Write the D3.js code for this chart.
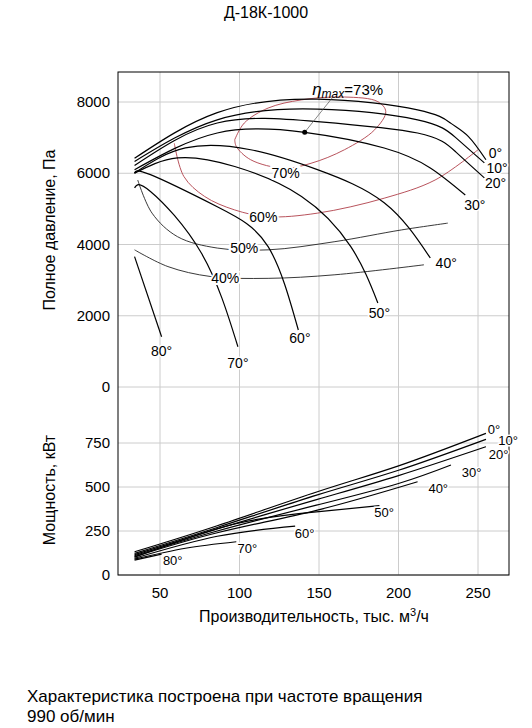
<!DOCTYPE html>
<html><head><meta charset="utf-8">
<script src="https://cdn.jsdelivr.net/npm/d3@7"></script>
<style>body{margin:0;background:#fff}svg{font-family:"Liberation Sans",Arial,sans-serif}</style>
</head><body><svg id="c" width="532" height="728"></svg>
<script>
const xTicks=[50,100,150,200,250];
const pTicks=[0,2000,4000,6000,8000];
const nTicks=[0,250,500,750];
const pressure={
 "0°":[[34,6420],[86,7700],[149,8080],[212,7780],[233,7400],[244,7030],[255,6380]],
 "10°":[[34,6330],[86,7500],[149,7800],[212,7500],[236,7000],[254,6290]],
 "20°":[[34,6220],[86,7410],[149,7450],[212,7130],[236,6600],[254,5870]],
 "30°":[[34,6100],[86,7130],[141,7150],[191,6710],[220,6150],[242,5390]],
 "40°":[[34,6010],[66,6710],[107,6660],[149,6100],[191,5170],[220,3620]],
 "50°":[[34,6000],[61,6430],[97,6190],[139,5350],[170,3940],[187,2360]],
 "60°":[[34,6000],[44,5960],[86,5060],[118,3940],[137,1600]],
 "70°":[[34,5590],[44,5490],[76,3760],[99,1130]],
 "80°":[[34,3660],[51,1410]]
};
const pressureLabels=[["0°",261,6560],["10°",262,6140],["20°",261,5720],["30°",248,5110],["40°",230,3470],["50°",188,2070],["60°",138,1370],["70°",99,670],["80°",51,1000]];
const eff70=[[97,6940],[103,7410],[118,7830],[139,8060],[166,8140],[187,8010],[192,7730],[185,7220],[166,6660],[145,6280],[128,6140],[107,6380],[98,6750],[97,6940]];
const eff60=[[59,6840],[65,5910],[78,5350],[97,4970],[118,4780],[149,4880],[191,5300],[223,5810],[250,6660]];
const eff50=[[36,5810],[45,4880],[61,4220],[86,3900],[118,3850],[160,4080],[202,4410],[231,4600]];
const eff40=[[34,3850],[55,3380],[82,3100],[118,3050],[160,3150],[216,3430]];
const effLabels=[["70%",129,6000],["60%",115,4780],["50%",103,3900],["40%",91,3050]];
const bestPoint=[141,7150];
const power={
 "0°":[[34,132],[86,280],[149,473],[200,620],[255,805]],
 "10°":[[34,123],[86,270],[149,455],[200,595],[255,771]],
 "20°":[[34,116],[86,262],[149,430],[200,565],[255,729]],
 "30°":[[34,110],[86,250],[149,398],[200,520],[233,625]],
 "40°":[[34,104],[86,240],[149,369],[212,530]],
 "50°":[[34,101],[97,290],[150,360],[188,394]],
 "60°":[[34,95],[86,220],[135,278]],
 "70°":[[34,90],[66,152],[98,189]],
 "80°":[[34,85],[51,119]]
};
const powerLabels=[["0°",260,830],["10°",269,765],["20°",263,690],["30°",246,587],["40°",225,494],["50°",191,360],["60°",141,237],["70°",105,152],["80°",58,85]];

const svg=d3.select("#c");
const x=d3.scaleLinear().domain([0,250]).range([80.5,478]);
const yP=d3.scaleLinear().domain([0,8000]).range([387,102]);
const yN=d3.scaleLinear().domain([0,750]).range([575,443]);
const L=118,R=509,T=72,B=575;
const g=svg.append("g");
xTicks.forEach(v=>g.append("line").attr("x1",x(v)).attr("x2",x(v)).attr("y1",T).attr("y2",B).attr("stroke","#ccc"));
pTicks.forEach(v=>g.append("line").attr("x1",L).attr("x2",R).attr("y1",yP(v)).attr("y2",yP(v)).attr("stroke","#ccc"));
nTicks.forEach(v=>g.append("line").attr("x1",L).attr("x2",R).attr("y1",yN(v)).attr("y2",yN(v)).attr("stroke","#ccc"));
g.append("rect").attr("x",L).attr("y",T).attr("width",R-L).attr("height",B-T).attr("fill","none").attr("stroke","#000");
const fs=15;
xTicks.forEach(v=>g.append("text").attr("x",x(v)).attr("y",598).attr("text-anchor","middle").attr("font-size",fs).text(v));
pTicks.forEach(v=>g.append("text").attr("x",110).attr("y",yP(v)+5).attr("text-anchor","end").attr("font-size",fs).text(v));
nTicks.forEach(v=>g.append("text").attr("x",110).attr("y",yN(v)+5).attr("text-anchor","end").attr("font-size",fs).text(v));
const lineP=d3.line().x(d=>x(d[0])).y(d=>yP(d[1])).curve(d3.curveNatural);
const lineE=d3.line().x(d=>x(d[0])).y(d=>yP(d[1])).curve(d3.curveCatmullRom);
const lineN=d3.line().x(d=>x(d[0])).y(d=>yN(d[1])).curve(d3.curveNatural);
[eff70,eff60,eff50,eff40].forEach((d,i)=>g.append("path").attr("d",lineE(d)).attr("fill","none").attr("stroke",i<2?"#b0404a":"#222").attr("stroke-width",0.9));
Object.values(pressure).forEach(d=>g.append("path").attr("d",lineP(d)).attr("fill","none").attr("stroke","#000").attr("stroke-width",1.2));
Object.values(power).forEach(d=>g.append("path").attr("d",lineN(d)).attr("fill","none").attr("stroke","#000").attr("stroke-width",1.2));
effLabels.forEach(([t,q,p])=>g.append("text").attr("x",x(q)).attr("y",yP(p)+5).attr("text-anchor","middle").attr("font-size",14).attr("stroke","#fff").attr("stroke-width",4).attr("paint-order","stroke").text(t));
pressureLabels.forEach(([t,q,p])=>g.append("text").attr("x",x(q)).attr("y",yP(p)+5).attr("text-anchor","middle").attr("font-size",14).attr("stroke","#fff").attr("stroke-width",3).attr("paint-order","stroke").text(t));
powerLabels.forEach(([t,q,p])=>g.append("text").attr("x",x(q)).attr("y",yN(p)+5).attr("text-anchor","middle").attr("font-size",13).attr("stroke","#fff").attr("stroke-width",3).attr("paint-order","stroke").text(t));
g.append("line").attr("x1",x(bestPoint[0])).attr("y1",yP(bestPoint[1])).attr("x2",x(bestPoint[0])+28).attr("y2",yP(bestPoint[1])-35).attr("stroke","#555").attr("stroke-width",0.7);
g.append("circle").attr("cx",x(bestPoint[0])).attr("cy",yP(bestPoint[1])).attr("r",2.5).attr("fill","#000");
const et=g.append("text").attr("x",x(168)).attr("y",yP(8340)+5).attr("text-anchor","middle").attr("font-size",15);
et.append("tspan").attr("font-style","italic").attr("font-size",17).text("η");
et.append("tspan").attr("font-style","italic").attr("font-size",12).attr("dy",3).text("max");
et.append("tspan").attr("dy",-3).text("=73%");
svg.append("text").attr("x",266).attr("y",18).attr("text-anchor","middle").attr("font-size",16).text("Д-18К-1000");
svg.append("text").attr("transform","translate(55,230) rotate(-90)").attr("text-anchor","middle").attr("font-size",16).text("Полное давление, Па");
svg.append("text").attr("transform","translate(55,490) rotate(-90)").attr("text-anchor","middle").attr("font-size",16).text("Мощность, кВт");
const xl=svg.append("text").attr("x",314).attr("y",622).attr("text-anchor","middle").attr("font-size",16);
xl.append("tspan").text("Производительность, тыс. м");
xl.append("tspan").attr("font-size",11).attr("dy",-6).text("3");
xl.append("tspan").attr("dy",6).text("/ч");
svg.append("text").attr("x",27).attr("y",702).attr("font-size",17).text("Характеристика построена при частоте вращения");
svg.append("text").attr("x",27).attr("y",722).attr("font-size",17).text("990 об/мин");
</script></body></html>
